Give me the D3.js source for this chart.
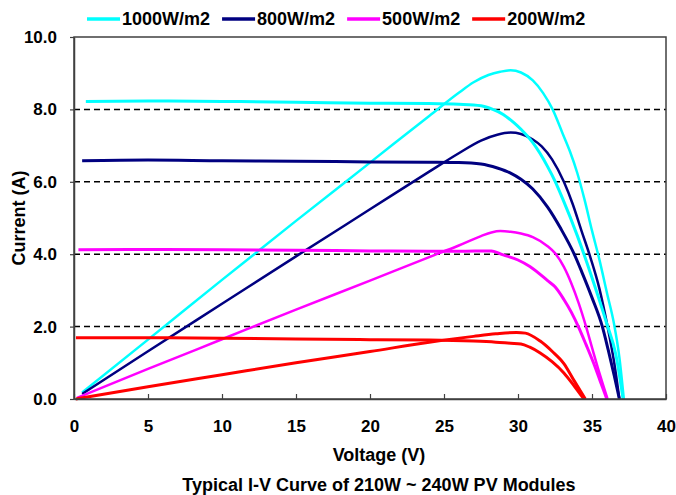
<!DOCTYPE html>
<html>
<head>
<meta charset="utf-8">
<script src="https://cdn.jsdelivr.net/npm/d3@7"></script>
<style>
  body { margin: 0; background: #fff; }
  text { font-family: "Liberation Sans", Arial, sans-serif; font-weight: bold; fill: #000; }
</style>
</head>
<body>
<svg id="chart" width="676" height="495"></svg>
<script>
// Irradiance levels (legend order)
const levels = ["1000W/m2", "800W/m2", "500W/m2", "200W/m2"];
const colors = ["#00ffff", "#000080", "#ff00ff", "#ff0000"];

// I-V curves: [voltage V, current A]
const iv1000 = [[0.8,8.22],[5,8.23],[10,8.22],[15,8.2],[20,8.17],[24,8.16],[26,8.14],[27.5,8.1],[28.3,8.0],[29,7.86],[29.7,7.64],[30.2,7.45],[31,7.08],[32,6.42],[32.5,6.02],[33,5.55],[34,4.52],[35,3.35],[36,2.08],[36.6,1.25],[37.1,0]];
const iv800  = [[0.55,6.58],[5,6.6],[10,6.58],[15,6.57],[20,6.55],[24,6.54],[26,6.53],[27.5,6.49],[28.6,6.38],[29.5,6.24],[30.2,6.07],[31,5.8],[32,5.3],[32.9,4.7],[33.8,4.0],[34.3,3.52],[35,2.8],[35.7,2.0],[36.1,1.35],[36.5,0.65],[36.85,0]];
const iv500  = [[0.3,4.12],[5,4.13],[10,4.12],[15,4.11],[20,4.09],[24,4.08],[26,4.08],[28.2,4.09],[29,3.98],[30,3.84],[30.8,3.66],[32,3.27],[32.5,3.1],[33.1,2.75],[33.6,2.4],[34.1,1.98],[34.6,1.5],[35.1,1.0],[35.55,0.5],[36,0]];
const iv200  = [[0.13,1.69],[5,1.69],[10,1.68],[15,1.66],[20,1.64],[24,1.63],[27,1.6],[28.5,1.57],[29.5,1.54],[30.2,1.52],[30.8,1.43],[31.5,1.27],[32.3,1.03],[33.1,0.72],[33.8,0.36],[34.45,0]];

// Power curves (plotted on the current scale, P/25)
const p1000 = [[0.55,0.18],[5,1.64],[10,3.29],[15,4.92],[20,6.53],[24,7.82],[26,8.46],[27,8.75],[28,8.95],[28.8,9.04],[29.5,9.08],[30.2,9.02],[31,8.8],[31.7,8.45],[32.34,8.0],[33,7.35],[33.5,6.85],[34,6.25],[34.5,5.5],[35,4.65],[35.5,3.85],[36,2.95],[36.5,2.05],[36.85,1.15],[37.15,0]];
const p800  = [[0.55,0.14],[5,1.32],[10,2.63],[15,3.94],[20,5.24],[24,6.28],[26,6.79],[27.5,7.14],[28.6,7.3],[29.5,7.36],[30.2,7.32],[31,7.17],[31.6,6.98],[32.3,6.62],[33.1,6.0],[33.7,5.38],[34.28,4.66],[34.9,3.9],[35.5,3.05],[36.05,2.0],[36.5,1.0],[36.85,0]];
const p500  = [[0.2,0.03],[5,0.83],[10,1.65],[15,2.47],[20,3.27],[24,3.92],[26,4.24],[27.5,4.5],[28.2,4.6],[28.8,4.64],[29.5,4.62],[30.2,4.57],[31,4.47],[32,4.22],[32.5,4.03],[33.1,3.65],[33.6,3.2],[34.1,2.65],[34.6,2.0],[35.05,1.35],[35.55,0.65],[36.05,0]];
const p200  = [[0.13,0],[5,0.34],[10,0.67],[15,1.0],[20,1.31],[24,1.57],[27,1.73],[28.5,1.8],[29.9,1.84],[30.5,1.82],[31.5,1.6],[32.3,1.32],[33.1,0.98],[33.8,0.5],[34.55,0]];

const ivCurves = [iv1000, iv800, iv500, iv200];
const powerCurves = [p1000, p800, p500, p200];

const xTicks = [0, 5, 10, 15, 20, 25, 30, 35, 40];
const yTicks = [0, 2, 4, 6, 8, 10];
const gridValues = [2, 4, 6, 8];

const svg = d3.select("#chart");

// plot box
const plotLeft = 74, plotRight = 666, plotTop = 37, plotBottom = 399;

const xScale = d3.scaleLinear().domain([0, 40]).range([plotLeft, plotRight]);
const yScale = d3.scaleLinear().domain([0, 10]).range([plotBottom, plotTop]);

// dashed grid lines
svg.selectAll(".grid")
    .data(gridValues)
    .join("line")
    .attr("class", "grid")
    .attr("x1", plotLeft).attr("x2", plotRight)
    .attr("y1", d => yScale(d)).attr("y2", d => yScale(d))
    .attr("stroke", "#000")
    .attr("stroke-width", 1.5)
    .attr("stroke-dasharray", "6,4");

// curves
const line = d3.line()
    .x(d => xScale(d[0]))
    .y(d => yScale(d[1]))
    .curve(d3.curveMonotoneX);

svg.selectAll(".pv")
    .data(powerCurves)
    .join("path")
    .attr("class", "pv")
    .attr("fill", "none")
    .attr("stroke", (d, i) => colors[i])
    .attr("stroke-width", (d, i) => i === 3 ? 3 : 2.5)
    .attr("stroke-linejoin", "round")
    .attr("d", line);

svg.selectAll(".iv")
    .data(ivCurves)
    .join("path")
    .attr("class", "iv")
    .attr("fill", "none")
    .attr("stroke", (d, i) => colors[i])
    .attr("stroke-width", 3)
    .attr("stroke-linejoin", "round")
    .attr("d", line);

// frame
svg.append("rect")
    .attr("x", plotLeft).attr("y", plotTop)
    .attr("width", plotRight - plotLeft).attr("height", plotBottom - plotTop)
    .attr("fill", "none")
    .attr("stroke", "#404040")
    .attr("stroke-width", 1.5);

// axes
const xAxis = d3.axisBottom(xScale)
    .tickValues(xTicks)
    .tickFormat(d3.format("d"))
    .tickSize(-5)
    .tickSizeOuter(0)
    .tickPadding(21);

svg.append("g")
    .attr("class", "x axis")
    .attr("transform", `translate(0, ${plotBottom})`)
    .call(xAxis);

const yAxis = d3.axisLeft(yScale)
    .tickValues(yTicks)
    .tickFormat(d3.format(".1f"))
    .tickSize(4)
    .tickSizeOuter(0)
    .tickPadding(13);

svg.append("g")
    .attr("class", "y axis")
    .attr("transform", `translate(${plotLeft}, 0)`)
    .call(yAxis);

svg.selectAll(".axis .domain").attr("stroke", "#404040").attr("stroke-width", 1.5);
svg.selectAll(".axis line").attr("stroke", "#404040").attr("stroke-width", 1.2);
svg.selectAll(".axis text")
    .attr("font-size", 17)
    .attr("font-family", "'Liberation Sans', Arial, sans-serif")
    .attr("font-weight", "bold")
    .attr("fill", "#000");

// axis titles
svg.append("text")
    .attr("x", 379)
    .attr("y", 461)
    .attr("text-anchor", "middle")
    .attr("font-size", 18)
    .text("Voltage (V)");

svg.append("text")
    .attr("transform", `translate(25, ${(plotTop + plotBottom) / 2}) rotate(-90)`)
    .attr("text-anchor", "middle")
    .attr("font-size", 18)
    .text("Current (A)");

svg.append("text")
    .attr("x", 379)
    .attr("y", 491)
    .attr("text-anchor", "middle")
    .attr("font-size", 18)
    .text("Typical I-V Curve of 210W ~ 240W PV Modules");

// legend
let lx = 87;
const legend = svg.append("g").attr("class", "legend");
levels.forEach((name, i) => {
    legend.append("line")
        .attr("x1", lx).attr("x2", lx + 33)
        .attr("y1", 19).attr("y2", 19)
        .attr("stroke", colors[i])
        .attr("stroke-width", 3.5);
    const t = legend.append("text")
        .attr("x", lx + 35)
        .attr("y", 25)
        .attr("font-size", 18)
        .text(name);
    lx += 35 + t.node().getComputedTextLength() + 12;
});
</script>
</body>
</html>
